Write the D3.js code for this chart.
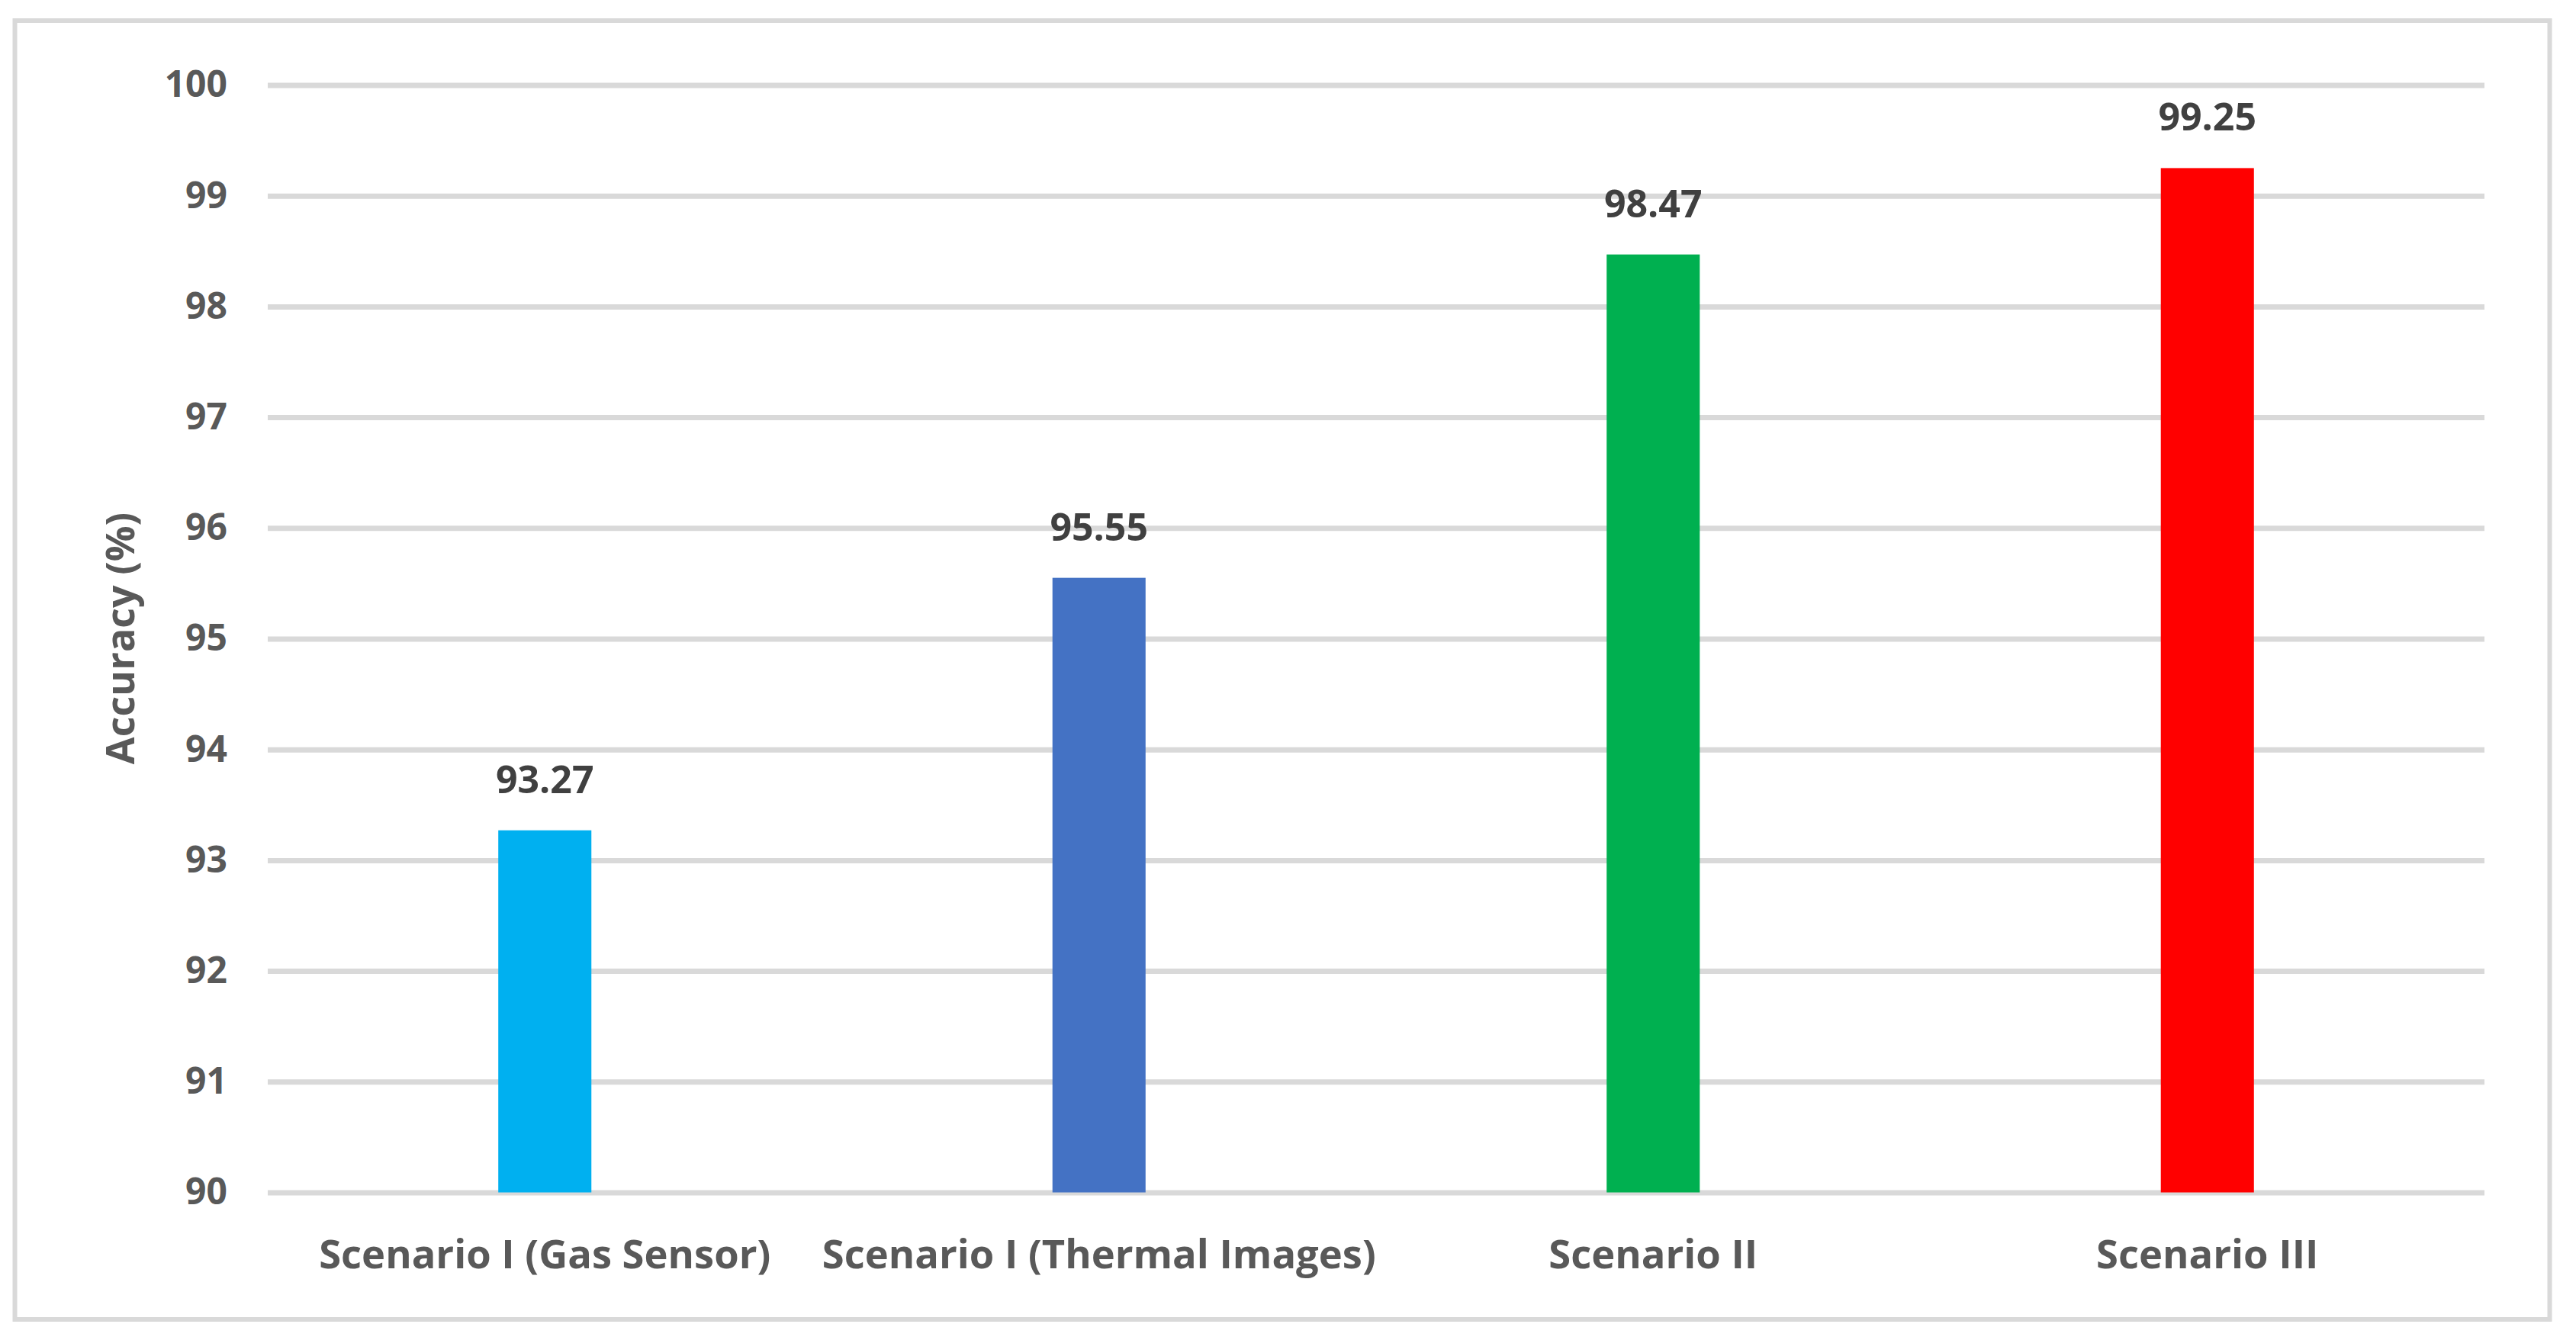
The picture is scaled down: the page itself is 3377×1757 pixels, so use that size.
<!DOCTYPE html>
<html>
<head>
<meta charset="utf-8">
<script src="https://cdn.jsdelivr.net/npm/d3@7"></script>
<style>
  html, body { margin: 0; padding: 0; background: #ffffff; }
  svg { display: block; }
  text { font-family: "Open Sans", "Noto Sans", sans-serif; font-weight: 700; }
</style>
</head>
<body>
<script>
const categories = ["Scenario I (Gas Sensor)", "Scenario I (Thermal Images)", "Scenario II", "Scenario III"];
const accuracy = [93.27, 95.55, 98.47, 99.25];
const barColors = ["#00B0F0", "#4472C4", "#00B050", "#FF0000"];
const yTicks = [90, 91, 92, 93, 94, 95, 96, 97, 98, 99, 100];
const yTitle = "Accuracy (%)";

const W = 3377, H = 1757;
const svg = d3.select("body").append("svg").attr("width", W).attr("height", H);

svg.append("rect").attr("x", 19.5).attr("y", 27).attr("width", 3323).attr("height", 1703)
  .attr("fill", "#ffffff").attr("stroke", "#d9d9d9").attr("stroke-width", 6);

const x = d3.scaleBand().domain(categories).range([351, 3257]).paddingInner(0.832).paddingOuter(0.416);
const y = d3.scaleLinear().domain([90, 100]).range([1563.5, 111.5]);

// gridlines
const yAxis = d3.axisLeft(y).tickValues(yTicks).tickSize(-(3257 - 351)).tickFormat(d3.format("d")).tickPadding(53);
const gy = svg.append("g").attr("transform", "translate(351,0)").call(yAxis);
gy.select(".domain").remove();
gy.selectAll(".tick line").attr("stroke", "#d9d9d9").attr("stroke-width", 7);
gy.selectAll(".tick text").attr("fill", "#595959").attr("font-size", 48)
  .attr("font-family", "'Open Sans', sans-serif").attr("font-weight", 700);

// bars
svg.append("g").selectAll("rect").data(categories).join("rect")
  .attr("x", d => x(d)).attr("width", x.bandwidth())
  .attr("y", (d, i) => y(accuracy[i]))
  .attr("height", (d, i) => y(90) - y(accuracy[i]))
  .attr("fill", (d, i) => barColors[i]);

// data labels
svg.append("g").selectAll("text").data(categories).join("text")
  .attr("x", d => x(d) + x.bandwidth() / 2)
  .attr("y", (d, i) => y(accuracy[i]) - 49)
  .attr("text-anchor", "middle").attr("fill", "#404040").attr("font-size", 50)
  .text((d, i) => accuracy[i].toFixed(2));

// x axis labels
const xAxis = d3.axisBottom(x).tickSize(0).tickPadding(0);
const gx = svg.append("g").attr("transform", "translate(0,1563.5)").call(xAxis);
gx.select(".domain").remove();
gx.selectAll(".tick text").attr("fill", "#595959").attr("font-size", 52.5)
  .attr("font-family", "'Open Sans', sans-serif").attr("font-weight", 700)
  .attr("dy", null).attr("y", 99.5);

// y title
svg.append("text").attr("transform", "translate(176,837) rotate(-90)")
  .attr("text-anchor", "middle").attr("fill", "#595959").attr("font-size", 52)
  .text(yTitle);
</script>
</body>
</html>
